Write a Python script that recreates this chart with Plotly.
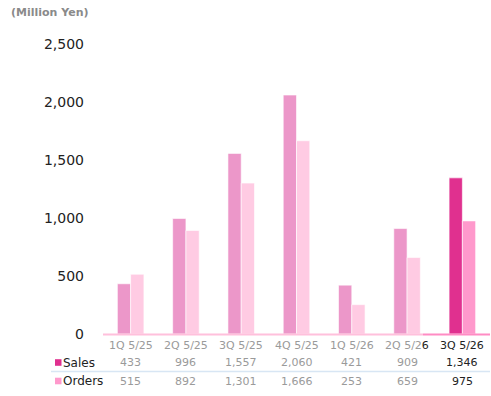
import plotly.graph_objects as go

# Quarterly figures (million yen)
quarters = ["1Q 5/25", "2Q 5/25", "3Q 5/25", "4Q 5/25", "1Q 5/26", "2Q 5/26", "3Q 5/26"]
sales = [433, 996, 1557, 2060, 421, 909, 1346]
orders = [515, 892, 1301, 1666, 253, 659, 975]

W, H = 491, 396
L, R, T, B = 103, 1, 44, 62
plot_w = W - L - R
plot_h = H - T - B

n = len(quarters)
sales_colors = ["#ec97c9"] * (n - 1) + ["#e0308f"]
orders_colors = ["#ffcbe3"] * (n - 1) + ["#ff99cc"]


def py(pix):
    """pixel row -> paper y"""
    return (H - B - pix) / plot_h


def px(pix):
    """pixel column -> paper x"""
    return (pix - L) / plot_w


fig = go.Figure()
fig.add_bar(x=list(range(n)), y=sales, name="Sales",
            marker=dict(color=sales_colors, line=dict(color="rgba(255,255,255,0.6)", width=1)))
fig.add_bar(x=list(range(n)), y=orders, name="Orders",
            marker=dict(color=orders_colors, line=dict(color="rgba(255,255,255,0.6)", width=1)))

# baseline
fig.add_shape(type="line", xref="paper", yref="paper", x0=0, x1=px(423), y0=py(334.5), y1=py(334.5),
              line=dict(color="#ffc0dc", width=2), layer="above")
fig.add_shape(type="line", xref="paper", yref="paper", x0=px(423), x1=1, y0=py(334.5), y1=py(334.5),
              line=dict(color="#ff8cc4", width=2), layer="above")

# table separator
fig.add_shape(type="line", xref="paper", yref="paper", x0=px(51), x1=px(490),
              y0=py(371.5), y1=py(371.5), line=dict(color="#d8e6f4", width=1.5))

annotations = []
gray = "#9a9a9a"
dark = "#222222"
for i, q in enumerate(quarters):
    last = i == n - 1
    label = q
    if i == n - 2:
        label = q[:-1] + "<span style='color:#222'>" + q[-1] + "</span>"
    col = dark if last else gray
    for text, row in [(label, 345), (f"{sales[i]:,}", 362.5), (f"{orders[i]:,}", 381)]:
        annotations.append(dict(x=i, y=py(row), xref="x", yref="paper", text=text,
                                xanchor="center", yanchor="middle", showarrow=False,
                                font=dict(size=11, color=col)))

# row legends
for name, color, row in [("Sales", "#e0308f", 362.5), ("Orders", "#ff99cc", 381)]:
    fig.add_shape(type="rect", xref="paper", yref="paper",
                  x0=px(55), x1=px(61.5), y0=py(row + 3.3), y1=py(row - 3.3),
                  fillcolor=color, line=dict(width=0))
    annotations.append(dict(x=px(61), y=py(row), xref="paper", yref="paper", text=name,
                            xanchor="left", yanchor="middle", showarrow=False,
                            font=dict(size=12, color=dark)))

annotations.append(dict(x=px(9), y=py(12), xref="paper", yref="paper", text="<b>(Million Yen)</b>",
                        xanchor="left", yanchor="middle", showarrow=False,
                        font=dict(size=11, color="#8a8a8a")))

fig.update_layout(
    width=W, height=H,
    margin=dict(l=L, r=R, t=T, b=B),
    paper_bgcolor="white", plot_bgcolor="white",
    barmode="group", bargap=0.52, bargroupgap=0,
    showlegend=False,
    font=dict(family="DejaVu Sans", color="#333333"),
    xaxis=dict(range=[-0.5, 6.5], showticklabels=False, showgrid=False, zeroline=False,
               fixedrange=True),
    yaxis=dict(range=[0, 2500], tickvals=[0, 500, 1000, 1500, 2000, 2500],
               ticktext=["0", "500", "1,000", "1,500", "2,000", "2,500"],
               showgrid=False, zeroline=False, ticks="", ticklabelstandoff=18,
               tickfont=dict(size=14, color="#222222")),
    annotations=annotations,
)

fig.write_html("out.html")
